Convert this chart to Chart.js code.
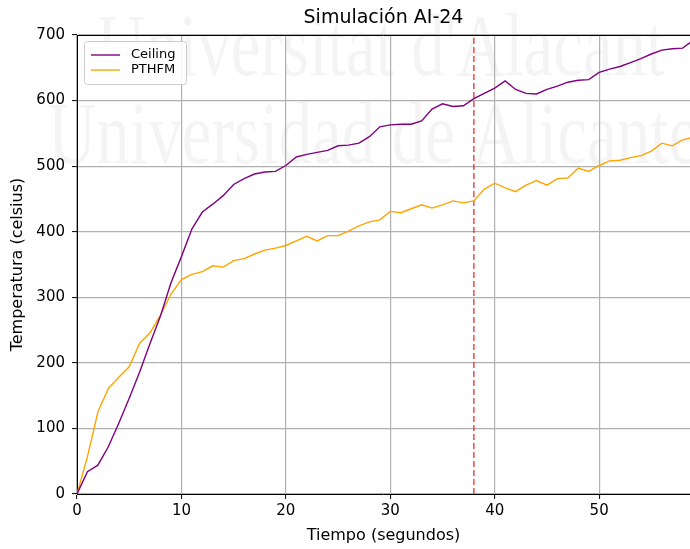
<!DOCTYPE html>
<html><head><meta charset="utf-8">
<script src="https://cdn.jsdelivr.net/npm/chart.js@4/dist/chart.umd.min.js"></script>
<style>html,body{margin:0;padding:0;background:#fff}#wrap{width:690px;height:549px}</style>
</head><body><div id="wrap"><canvas id="c" width="690" height="549"></canvas></div>
<script>
const titleText = 'Simulación AI-24';
const xAxisLabel = 'Tiempo (segundos)';
const yAxisLabel = 'Temperatura (celsius)';
const seriesNames = ['Ceiling', 'PTHFM'];
const watermarkLines = ["Universitat d'Alacant", 'Universidad de Alicante'];
const seconds = [0,1,2,3,4,5,6,7,8,9,10,11,12,13,14,15,16,17,18,19,20,21,22,23,24,25,26,27,28,29,30,31,32,33,34,35,36,37,38,39,40,41,42,43,44,45,46,47,48,49,50,51,52,53,54,55,56,57,58,59];
const ceiling = [0,34,44,72,108,146,186,230,272,322,362,404,430,442,455,472,481,488,491,492,501,514,518,521,524,531,532,535,545,560,563,564,564,569,587,595,591,592,603,611,619,630,617,611,610,617,622,628,631,632,643,648,652,658,664,671,677,679,680,692];
const pthfm = [0,57,125,161,178,194,230,246,273,305,327,335,339,348,346,356,359,366,372,375,379,386,393,386,394,394,401,409,415,418,431,429,435,441,436,441,447,444,447,465,474,467,461,471,478,471,481,482,497,492,501,508,509,513,516,523,535,531,540,544];
const markerTime = 38;
const markerSpan = [0, 700];
const xTicks = [0,10,20,30,40,50];
const yTicks = [0,100,200,300,400,500,600,700];
const xRange = [0, 58.7];

const FONT = "'DejaVu Sans', sans-serif";
const toPts = (xs, ys) => xs.map((x, i) => ({x, y: ys[i]}));

const watermark = {
  id: 'watermark',
  beforeDraw(chart) {
    const ctx = chart.ctx;
    ctx.save();
    ctx.fillStyle = 'rgba(0,0,0,0.045)';
    ctx.font = "69px 'Liberation Serif', serif";
    ctx.textBaseline = 'alphabetic';
    const pos = [[97, 75], [48, 163]];
    watermarkLines.forEach((t, i) => {
      ctx.save();
      ctx.translate(pos[i][0], pos[i][1]);
      ctx.scale(0.97, 1.28);
      ctx.fillText(t, 0, 0);
      ctx.restore();
    });
    ctx.restore();
  }
};

const decor = {
  id: 'decor',
  afterDraw(chart) {
    const ctx = chart.ctx, a = chart.chartArea;
    ctx.save();
    ctx.strokeStyle = '#000'; ctx.lineWidth = 1;
    ctx.beginPath(); ctx.moveTo(a.left, a.top + 0.5); ctx.lineTo(a.right, a.top + 0.5); ctx.stroke();
    ctx.fillStyle = '#000';
    ctx.font = '19px ' + FONT;
    ctx.textAlign = 'center'; ctx.textBaseline = 'middle';
    ctx.fillText(titleText, (a.left + a.right) / 2, 18);
    const bx = 84.5, by = 41.5, bw = 102, bh = 43, r = 3;
    ctx.beginPath();
    ctx.moveTo(bx + r, by); ctx.lineTo(bx + bw - r, by); ctx.arcTo(bx + bw, by, bx + bw, by + r, r);
    ctx.lineTo(bx + bw, by + bh - r); ctx.arcTo(bx + bw, by + bh, bx + bw - r, by + bh, r);
    ctx.lineTo(bx + r, by + bh); ctx.arcTo(bx, by + bh, bx, by + bh - r, r);
    ctx.lineTo(bx, by + r); ctx.arcTo(bx, by, bx + r, by, r); ctx.closePath();
    ctx.fillStyle = 'rgba(255,255,255,0.85)'; ctx.fill();
    ctx.strokeStyle = '#cccccc'; ctx.lineWidth = 1; ctx.stroke();
    const ds = chart.data.datasets;
    [0, 1].forEach(i => {
      const y = 55 + i * 15;
      ctx.strokeStyle = ds[i].borderColor; ctx.lineWidth = 1.4;
      ctx.beginPath(); ctx.moveTo(91, y); ctx.lineTo(120, y); ctx.stroke();
      ctx.fillStyle = '#000'; ctx.font = '13px ' + FONT;
      ctx.textAlign = 'left'; ctx.textBaseline = 'middle';
      ctx.fillText(ds[i].label, 131, y);
    });
    ctx.restore();
  }
};

new Chart(document.getElementById('c'), {
  type: 'line',
  data: {
    datasets: [
      {label: seriesNames[0], data: toPts(seconds, ceiling), borderColor: '#800080', borderWidth: 1.4, pointRadius: 0, tension: 0, fill: false},
      {label: seriesNames[1], data: toPts(seconds, pthfm), borderColor: '#FFA500', borderWidth: 1.4, pointRadius: 0, tension: 0, fill: false},
      {label: 'marker', data: markerSpan.map(v => ({x: markerTime, y: v})), borderColor: 'rgba(255,20,20,0.8)', borderWidth: 1.5, borderDash: [6, 3], pointRadius: 0, fill: false}
    ]
  },
  options: {
    responsive: false, animation: false, devicePixelRatio: 1,
    layout: {padding: {top: 35, right: 0, left: 0, bottom: 0}},
    plugins: {legend: {display: false}, tooltip: {enabled: false}, title: {display: false}},
    scales: {
      x: {
        type: 'linear', min: xRange[0], max: xRange[1],
        afterFit(s) { s.height = 55; },
        afterBuildTicks(s) { s.ticks = xTicks.map(v => ({value: v})); },
        ticks: {font: {family: FONT, size: 15}, color: '#000', padding: 3, maxRotation: 0},
        grid: {color: '#b0b0b0', lineWidth: 1.2, tickLength: 5, tickColor: '#000', tickWidth: 1},
        border: {color: '#000', width: 1},
        title: {display: true, text: xAxisLabel, font: {family: FONT, size: 16}, color: '#000', padding: {top: 0, bottom: 4}}
      },
      y: {
        type: 'linear', min: markerSpan[0], max: markerSpan[1],
        afterFit(s) { s.width = 77; },
        afterBuildTicks(s) { s.ticks = yTicks.map(v => ({value: v})); },
        ticks: {font: {family: FONT, size: 15}, color: '#000', padding: 7},
        grid: {color: '#b0b0b0', lineWidth: 1.2, tickLength: 5, tickColor: '#000', tickWidth: 1},
        border: {color: '#000', width: 1},
        title: {display: true, text: yAxisLabel, font: {family: FONT, size: 16}, color: '#000', padding: {top: 8, bottom: 0}}
      }
    }
  },
  plugins: [watermark, decor]
});
</script>
</body></html>
